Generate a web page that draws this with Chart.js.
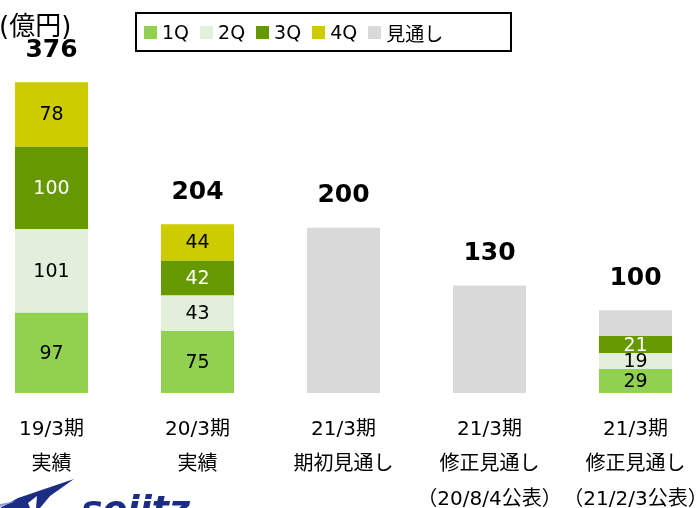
<!DOCTYPE html>
<html>
<head>
<meta charset="utf-8">
<script src="https://cdn.jsdelivr.net/npm/chart.js@4/dist/chart.umd.min.js"></script>
<style>
body{margin:0;background:#fff;font-family:"DejaVu Sans","Noto Sans CJK JP",sans-serif;}
#wrap{position:relative;width:699px;height:508px;overflow:hidden;}
#unit{position:absolute;left:-1px;top:5px;font-size:26px;color:#000;}
#legend{position:absolute;left:135px;top:12px;width:366px;height:36px;border:2px solid #000;display:flex;align-items:center;padding-left:7px;box-sizing:content-box;}
#legend span.item{display:flex;align-items:center;margin-right:11px;font-size:19px;}
#legend span.sw{display:inline-block;width:13px;height:13px;margin-right:5px;}
#logo{position:absolute;left:0;top:476px;}
#logotext{position:absolute;left:81px;top:488px;font-size:36px;font-weight:bold;font-style:italic;color:#1c2d86;}
</style>
</head>
<body>
<div id="wrap">
<canvas id="chart" width="699" height="508"></canvas>
<div id="unit">(億円)</div>
<div id="legend"></div>
<svg id="logo" width="80" height="32"><polygon points="0,32 18,22 74,3 50,20 40,32" fill="#1c2d86"/><polygon points="28,27 37,20 36,32 30,32" fill="#fff"/><polygon points="0,28 16,25 0,31" fill="#8fa3d8"/></svg>
<div id="logotext">sojitz</div>
</div>
<script>
// 単位: 億円
var categories = [
	["19/3期","実績"],
	["20/3期","実績"],
	["21/3期","期初見通し"],
	["21/3期","修正見通し","（20/8/4公表）"],
	["21/3期","修正見通し","（21/2/3公表）"]
];
var q1 = [97, 75, null, null, 29];
var q2 = [101, 43, null, null, 19];
var q3 = [100, 42, null, null, 21];
var q4 = [78, 44, null, null, null];
var forecast = [null, null, 200, 130, 31];

var seriesNames = ["1Q","2Q","3Q","4Q","見通し"];
var seriesColors = ["#92d050","#e2efda","#669900","#cccc00","#d9d9d9"];
var labelColors = ["#000","#000","#fff","#000",null];
var seriesData = [q1,q2,q3,q4,forecast];

// HTML legend
var legend = document.querySelector("#legend");
for(var i = 0; i < seriesNames.length; i++){
	var item = document.createElement("span");
	item.className = "item";
	item.innerHTML = '<span class="sw" style="background:'+seriesColors[i]+'"></span>'+seriesNames[i];
	legend.appendChild(item);
}

var datasets = [];
for(var i = 0; i < seriesData.length; i++){
	datasets.push({
		label:seriesNames[i],
		data:seriesData[i],
		backgroundColor:seriesColors[i],
		borderWidth:0,
		barPercentage:0.5,
		categoryPercentage:1,
		clip:false
	});
}

let labelPlugin = {
	id:'barLabels',
	afterDatasetsDraw(chart){
		let ctx = chart.ctx;
		ctx.save();
		ctx.textAlign = 'center';
		ctx.textBaseline = 'middle';
		ctx.font = '19px "DejaVu Sans"';
		let tops = [];
		let totals = [];
		chart.data.datasets.forEach(function(ds, di){
			let meta = chart.getDatasetMeta(di);
			meta.data.forEach(function(bar, idx){
				let v = ds.data[idx];
				if(v == null) return;
				totals[idx] = (totals[idx] || 0) + v;
				tops[idx] = tops[idx] == null ? bar.y : Math.min(tops[idx], bar.y);
				if(labelColors[di]){
					ctx.fillStyle = labelColors[di];
					ctx.fillText(v, bar.x, (bar.y + bar.base)/2 + 1);
				}
			});
		});
		ctx.font = 'bold 25px "DejaVu Sans"';
		ctx.fillStyle = '#000';
		totals.forEach(function(t, idx){
			let x = chart.scales.x.getPixelForValue(idx);
			ctx.fillText(t, x, tops[idx] - 32);
		});
		ctx.restore();
	}
};

let ctx = document.querySelector("#chart").getContext("2d");
let chart = new Chart(ctx,{
	type:'bar',
	data:{
		labels:categories,
		datasets:datasets
	},
	plugins:[labelPlugin],
	options:{
		responsive:false,
		animation:false,
		layout:{
			padding:{left:51.5, right:63.5, top:21, bottom:0}
		},
		plugins:{
			legend:{display:false},
			tooltip:{enabled:false}
		},
		scales:{
			x:{
				stacked:true,
				offset:false,
				grid:{display:false, drawTicks:false},
				border:{display:false},
				ticks:{
					color:'#000',
					font:{family:'"DejaVu Sans","Noto Sans CJK JP"', size:20, lineHeight:1.75},
					padding:19,
					autoSkip:false,
					maxRotation:0
				},
				afterFit:function(scale){
					scale.height = 115;
					scale.paddingLeft = 0;
					scale.paddingRight = 0;
				}
			},
			y:{
				stacked:true,
				display:false,
				min:0,
				max:450
			}
		}
	}
});
</script>
</body>
</html>
